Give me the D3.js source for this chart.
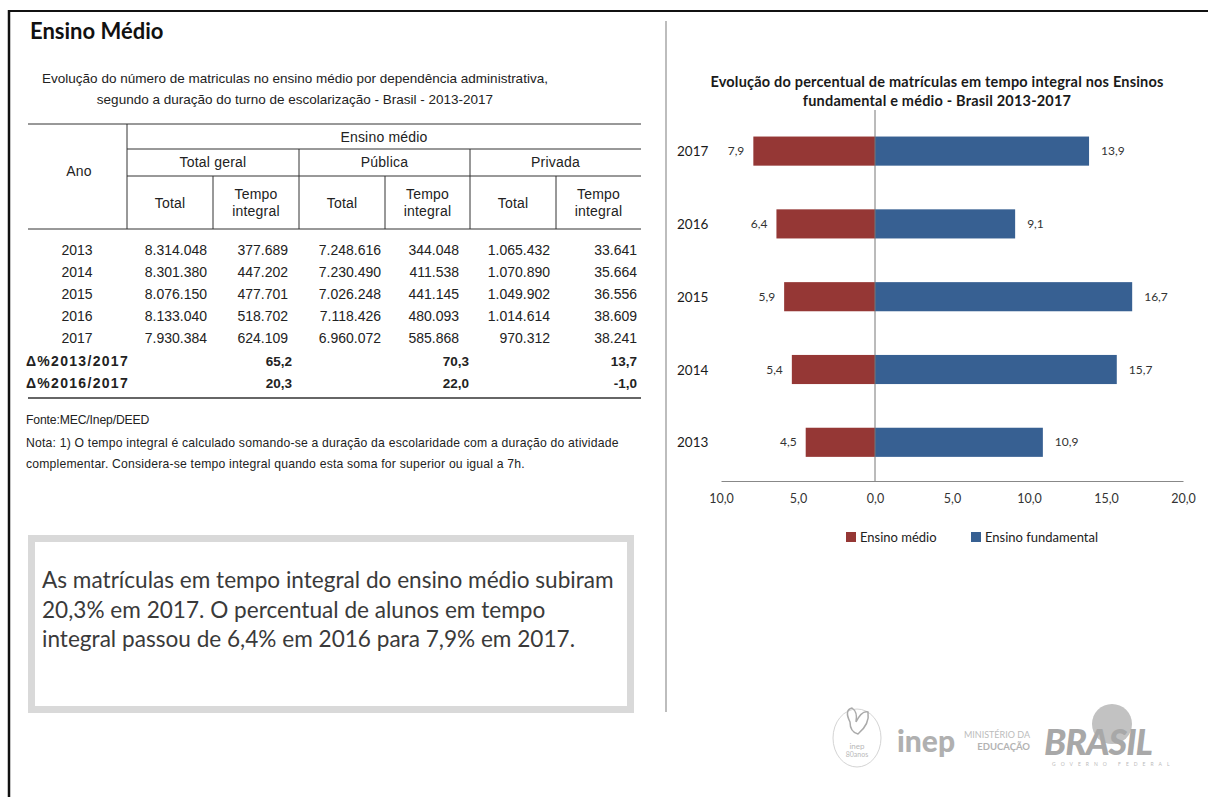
<!DOCTYPE html>
<html>
<head>
<meta charset="utf-8">
<script src="https://cdn.jsdelivr.net/npm/d3@7"></script>
<style>
  body { margin: 0; background: #fff; }
  svg { display: block; }
  .tbl { font-family: "Liberation Sans", Arial, sans-serif; fill: #222; }
  .cal { font-family: Lato, "Open Sans", sans-serif; }
</style>
</head>
<body>
<div id="chart"></div>
<script>
// ---- table data ----
const years = ["2013", "2014", "2015", "2016", "2017"];
const totalGeral = [8314048, 8301380, 8076150, 8133040, 7930384];
const totalGeralIntegral = [377689, 447202, 477701, 518702, 624109];
const publica = [7248616, 7230490, 7026248, 7118426, 6960072];
const publicaIntegral = [344048, 411538, 441145, 480093, 585868];
const privada = [1065432, 1070890, 1049902, 1014614, 970312];
const privadaIntegral = [33641, 35664, 36556, 38609, 38241];

const deltaLabels = ["Δ%2013/2017", "Δ%2016/2017"];
const delta2013 = [65.2, 70.3, 13.7];
const delta2016 = [20.3, 22.0, -1.0];

const groupHeaders = ["Total geral", "Pública", "Privada"];

// ---- bar chart data ----
const chartYears = ["2017", "2016", "2015", "2014", "2013"];
const medio = [7.9, 6.4, 5.9, 5.4, 4.5];
const fundamental = [13.9, 9.1, 16.7, 15.7, 10.9];
const tickValues = [-10, -5, 0, 5, 10, 15, 20];
const seriesNames = ["Ensino médio", "Ensino fundamental"];

const W = 1208, H = 797;
const RED = "#953735", BLUE = "#376092";

const br = d3.formatLocale({ decimal: ",", thousands: ".", grouping: [3], currency: ["R$", ""], minus: "-" });
const fmtInt = br.format(",d");
const fmt1 = br.format(".1f");

const svg = d3.select("#chart").append("svg")
    .attr("width", W)
    .attr("height", H);

// frame + divider
svg.append("line").attr("x1", 8).attr("x2", W).attr("y1", 11).attr("y2", 11)
    .attr("stroke", "#111").attr("stroke-width", 2);
svg.append("line").attr("x1", 9).attr("x2", 9).attr("y1", 10).attr("y2", H)
    .attr("stroke", "#111").attr("stroke-width", 2.5);
svg.append("line").attr("x1", 666).attr("x2", 666).attr("y1", 21).attr("y2", 712)
    .attr("stroke", "#bdbdbd").attr("stroke-width", 2);

svg.append("text").attr("class", "cal")
    .attr("x", 30).attr("y", 39)
    .style("font-size", "22px").style("font-weight", "bold").attr("fill", "#111")
    .text("Ensino Médio");

// ---- left: table ----
const tbl = svg.append("g").attr("class", "tbl");

tbl.selectAll(".sub")
    .data(["Evolução do número de matriculas no ensino médio por dependência administrativa,",
           "segundo a duração do turno de escolarização - Brasil - 2013-2017"])
    .join("text")
    .attr("x", 295).attr("y", (d, i) => 83 + i * 20.5)
    .attr("text-anchor", "middle")
    .style("font-size", "13.5px")
    .text(d => d);

const colEdges = [127, 213, 299, 385, 470, 556, 641];
const tableLeft = 28, tableRight = 641;

const hl = [
    [tableLeft, 124], [127, 149], [127, 176], [tableLeft, 229], [tableLeft, 398]
];
tbl.selectAll(".hl").data(hl).join("line")
    .attr("x1", d => d[0]).attr("x2", tableRight)
    .attr("y1", d => d[1]).attr("y2", d => d[1])
    .attr("stroke", "#333").attr("stroke-width", d => d[1] === 398 ? 1.5 : 1);

const vl = [[127, 124], [299, 149], [470, 149], [213, 176], [385, 176], [556, 176]];
tbl.selectAll(".vl").data(vl).join("line")
    .attr("x1", d => d[0]).attr("x2", d => d[0])
    .attr("y1", d => d[1]).attr("y2", 229)
    .attr("stroke", "#333").attr("stroke-width", 1);

const headStyle = sel => sel.style("font-size", "14px").style("letter-spacing", "0.2px");

tbl.append("text").attr("x", 79).attr("y", 176).attr("text-anchor", "middle")
    .call(headStyle).text("Ano");
tbl.append("text").attr("x", (127 + tableRight) / 2).attr("y", 142).attr("text-anchor", "middle")
    .call(headStyle).text("Ensino médio");
tbl.selectAll(".gh").data(groupHeaders).join("text")
    .attr("x", (d, i) => (colEdges[i * 2] + colEdges[i * 2 + 2]) / 2)
    .attr("y", 167).attr("text-anchor", "middle")
    .call(headStyle).text(d => d);

const subCols = d3.range(6);
const subHead = tbl.selectAll(".sh").data(subCols).join("g");
subHead.each(function(i) {
    const g = d3.select(this);
    const cx = (colEdges[i] + colEdges[i + 1]) / 2;
    if (i % 2 === 0) {
        g.append("text").attr("x", cx).attr("y", 208).attr("text-anchor", "middle")
            .call(headStyle).text("Total");
    } else {
        g.append("text").attr("x", cx).attr("y", 199).attr("text-anchor", "middle")
            .call(headStyle).text("Tempo");
        g.append("text").attr("x", cx).attr("y", 216).attr("text-anchor", "middle")
            .call(headStyle).text("integral");
    }
});

const columns = [totalGeral, totalGeralIntegral, publica, publicaIntegral, privada, privadaIntegral];
const valueRight = [207, 288, 381, 459, 550, 637];
const rowY = d3.scalePoint().domain(years).range([250, 338]);

const rows = tbl.selectAll(".row").data(years).join("g")
    .attr("transform", d => `translate(0,${rowY(d) + 5})`);
rows.append("text").attr("x", 77).attr("text-anchor", "middle")
    .style("font-size", "14px").text(d => d);
rows.each(function(y, r) {
    d3.select(this).selectAll(".v").data(columns).join("text")
        .attr("x", (c, i) => valueRight[i])
        .attr("text-anchor", "end")
        .style("font-size", "14px")
        .text(c => fmtInt(c[r]));
});

const deltaRight = [292, 469, 637];
const deltaRows = tbl.selectAll(".drow").data([delta2013, delta2016]).join("g")
    .attr("transform", (d, i) => `translate(0,${366 + i * 22})`)
    .style("font-weight", "bold");
deltaRows.append("text").attr("x", 26).style("font-size", "14px").style("letter-spacing", "1.3px")
    .text((d, i) => deltaLabels[i]);
deltaRows.selectAll(".dv").data(d => d).join("text")
    .attr("x", (d, i) => deltaRight[i]).attr("text-anchor", "end")
    .style("font-size", "13.5px").text(d => fmt1(d));

tbl.selectAll(".note")
    .data(["Fonte:MEC/Inep/DEED",
           "Nota: 1) O tempo integral é  calculado somando-se a duração da escolaridade com a duração do atividade",
           "complementar. Considera-se tempo integral quando esta soma for superior ou igual a 7h."])
    .join("text")
    .attr("x", 26).attr("y", (d, i) => i === 0 ? 424 : 447 + (i - 1) * 21)
    .style("font-size", "12.2px").style("letter-spacing", (d, i) => i === 0 ? "-0.15px" : "0.2px")
    .text(d => d);

// text box
svg.append("rect").attr("x", 31.5).attr("y", 538.5).attr("width", 599).attr("height", 171)
    .attr("fill", "#fff").attr("stroke", "#d9d9d9").attr("stroke-width", 7);
svg.selectAll(".box").data([
    "As matrículas em tempo integral do ensino médio subiram",
    "20,3% em 2017. O percentual de alunos em tempo",
    "integral passou de 6,4% em 2016 para 7,9% em 2017."
]).join("text").attr("class", "cal")
    .attr("x", 42).attr("y", (d, i) => 588 + i * 29.5)
    .style("font-size", "22.6px").attr("fill", "#3a3a3a")
    .text(d => d);

// ---- right: bar chart ----
const chart = svg.append("g").attr("class", "cal");

chart.selectAll(".ct")
    .data(["Evolução do percentual de matrículas em tempo integral nos Ensinos",
           "fundamental e médio - Brasil 2013-2017"])
    .join("text")
    .attr("x", 937).attr("y", (d, i) => 87 + i * 19)
    .attr("text-anchor", "middle")
    .style("font-size", "14.5px").style("font-weight", "bold").style("letter-spacing", "0.2px")
    .attr("fill", "#1a1a1a")
    .text(d => d);

const x = d3.scaleLinear().domain([-10, 20]).range([721, 1183]);
const y = d3.scaleBand().domain(chartYears).range([114.7, 478.7])
    .paddingInner(0.6).paddingOuter(0.3);
const axisY = 481;

chart.selectAll(".med").data(chartYears).join("rect")
    .attr("x", (d, i) => x(-medio[i]))
    .attr("width", (d, i) => x(0) - x(-medio[i]))
    .attr("y", d => y(d)).attr("height", y.bandwidth())
    .attr("fill", RED);
chart.selectAll(".fun").data(chartYears).join("rect")
    .attr("x", x(0))
    .attr("width", (d, i) => x(fundamental[i]) - x(0))
    .attr("y", d => y(d)).attr("height", y.bandwidth())
    .attr("fill", BLUE);

chart.append("line").attr("x1", x(0)).attr("x2", x(0)).attr("y1", 110).attr("y2", axisY)
    .attr("stroke", "#777").attr("stroke-width", 1);

const xAxis = d3.axisBottom(x).tickValues(tickValues).tickSize(0).tickPadding(13)
    .tickFormat(d => fmt1(Math.abs(d)));
const ax = chart.append("g").attr("transform", `translate(0,${axisY})`).call(xAxis);
ax.select(".domain").attr("stroke", "#888");
ax.selectAll("text").style("font-family", "Lato, sans-serif").style("font-size", "12.5px").attr("fill", "#333");

chart.selectAll(".yl").data(chartYears).join("text")
    .attr("x", 677).attr("y", d => y(d) + y.bandwidth() / 2 + 5)
    .style("font-size", "13.5px").attr("fill", "#1a1a1a")
    .text(d => d);

chart.selectAll(".mv").data(chartYears).join("text")
    .attr("x", (d, i) => x(-medio[i]) - 9)
    .attr("y", d => y(d) + y.bandwidth() / 2 + 4)
    .attr("text-anchor", "end")
    .style("font-size", "12px").attr("fill", "#333")
    .text((d, i) => fmt1(medio[i]));
chart.selectAll(".fv").data(chartYears).join("text")
    .attr("x", (d, i) => x(fundamental[i]) + 12)
    .attr("y", d => y(d) + y.bandwidth() / 2 + 4)
    .style("font-size", "12px").attr("fill", "#333")
    .text((d, i) => fmt1(fundamental[i]));

const legendX = [846, 971];
const leg = chart.selectAll(".lg").data(seriesNames).join("g")
    .attr("transform", (d, i) => `translate(${legendX[i]},532)`);
leg.append("rect").attr("width", 10).attr("height", 10)
    .attr("fill", (d, i) => i === 0 ? RED : BLUE);
leg.append("text").attr("x", 14).attr("y", 10)
    .style("font-size", "13px").attr("fill", "#222").text(d => d);

// ---- logos (simplified) ----
const logo = svg.append("g").attr("fill", "#b9b9b9").attr("class", "cal");
logo.append("ellipse").attr("cx", 857).attr("cy", 738).attr("rx", 24).attr("ry", 29)
    .attr("fill", "none").attr("stroke", "#d4d4d4").attr("stroke-width", 1);
logo.append("path").attr("d", "M850,722 q-6,-12 2,-14 q6,4 4,14 q6,-12 12,-10 q2,12 -10,22 q-8,-2 -8,-12z")
    .attr("fill", "none").attr("stroke", "#aaa").attr("stroke-width", 1.5);
logo.append("text").attr("x", 857).attr("y", 749).attr("text-anchor", "middle")
    .style("font-size", "8px").text("inep");
logo.append("text").attr("x", 857).attr("y", 757).attr("text-anchor", "middle")
    .style("font-size", "7px").text("80anos");
logo.append("text").attr("x", 897).attr("y", 752)
    .style("font-size", "30px").style("font-weight", "900").attr("fill", "#b0b0b0").text("inep");
logo.append("text").attr("x", 1030).attr("y", 738).attr("text-anchor", "end")
    .style("font-size", "9px").attr("fill", "#bcbcbc").text("MINISTÉRIO DA");
logo.append("text").attr("x", 1030).attr("y", 750).attr("text-anchor", "end")
    .style("font-size", "9.5px").style("font-weight", "bold").attr("fill", "#b3b3b3").text("EDUCAÇÃO");
logo.append("circle").attr("cx", 1112).attr("cy", 724).attr("r", 20).attr("fill", "#c2c2c2");
logo.append("text").attr("x", 1044).attr("y", 755)
    .style("font-size", "36px").style("font-weight", "900").style("font-style", "italic")
    .style("letter-spacing", "-1px").attr("fill", "#a8a8a8").text("BRASIL");
logo.append("text").attr("x", 1052).attr("y", 766)
    .style("font-size", "5px").style("letter-spacing", "5px").attr("fill", "#bbb").text("GOVERNO FEDERAL");
</script>
</body>
</html>
